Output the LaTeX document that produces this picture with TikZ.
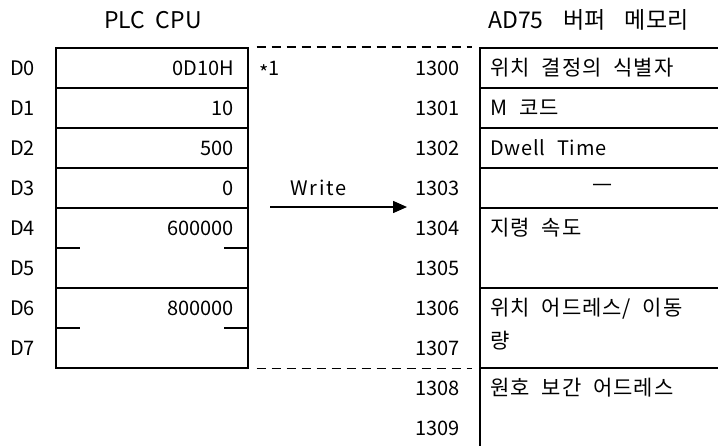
\documentclass[tikz,border=0pt]{standalone}
\usepackage{fontspec}
\setmainfont{Noto Sans CJK KR}[WordSpace=2.2]
\newfontfamily\spacedfont{Noto Sans CJK KR}[LetterSpace=9]
\newfontfamily\lightspaced{Noto Sans CJK KR}[LetterSpace=4,WordSpace=2.2]
\newfontfamily\korfont{Noto Sans CJK KR}[LetterSpace=4,WordSpace=2.2]
\newfontfamily\dashfont{DejaVu Sans}
\usetikzlibrary{arrows.meta}
\begin{document}
\begin{tikzpicture}[x=1pt,y=-1pt,
  boxline/.style={draw, line width=1.5pt},
  lcell/.style={boxline, minimum width=192pt, minimum height=40pt, inner sep=0pt, anchor=north west},
  rcell/.style={boxline, minimum width=281pt, minimum height=40pt, inner sep=0pt, anchor=north west},
  dashline/.style={line width=1.5pt, dash pattern=on 9pt off 6pt},
  lat/.style={font=\fontsize{20pt}{22pt}\selectfont, inner sep=0pt},
  kor/.style={font=\korfont\fontsize{21pt}{23pt}\selectfont, inner sep=0pt},
  ttl/.style={font=\fontsize{23pt}{25pt}\selectfont, inner sep=0pt}]
\useasboundingbox (0,0) rectangle (718,445);
\clip (0,0) rectangle (718,445);
% titles
\node[ttl, anchor=base] (t1) at (153,28) {PLC\hspace{0.45em}CPU};
\node[ttl, anchor=base west] (t2) at (488,28) {AD75\hspace{0.85em}버퍼\hspace{0.85em}메모리};
% left cells
\node[lcell] (c0) at (55,47) {};
\node[lcell] (c1) at (55,87) {};
\node[lcell] (c2) at (55,127) {};
\node[lcell] (c3) at (55,167) {};
\node[lcell, minimum height=80pt] (c45) at (55,207) {};
\node[lcell, minimum height=80pt] (c67) at (55,287) {};
\draw[line width=1.5pt] (c45.west) -- ++(25,0);
\draw[line width=1.5pt] (c45.east) -- ++(-25,0);
\draw[line width=1.5pt] (c67.west) -- ++(25,0);
\draw[line width=1.5pt] (c67.east) -- ++(-25,0);
% right cells
\node[rcell] (r0) at (479,47) {};
\node[rcell] (r1) at (479,87) {};
\node[rcell] (r2) at (479,127) {};
\node[rcell] (r3) at (479,167) {};
\node[rcell, minimum height=80pt] (r45) at (479,207) {};
\node[rcell, minimum height=80pt] (r67) at (479,287) {};
\node[rcell, minimum height=110pt] (r89) at (479,367) {};
% dashed connectors
\draw[dashline, shorten <=8pt, shorten >=7pt] (c0.north east) -- (r0.north west);
\draw[dashline, shorten <=8pt, shorten >=7pt] (c67.south east) -- (r67.south west);
% D labels
\foreach \i/\b in {0/75,1/115,2/155,3/195,4/235,5/275,6/315,7/355}
  \node[lat, anchor=base west] (d\i) at (10,\b) {D\i};
% values
\node[lat, anchor=base east] (v0) at (234,75) {0D10H};
\node[lat, anchor=base east] (v1) at (234,115) {10};
\node[lat, anchor=base east] (v2) at (234,155) {500};
\node[lat, anchor=base east] (v3) at (234,195) {0};
\node[lat, anchor=base east] (v4) at (234,235) {600000};
\node[lat, anchor=base east] (v6) at (234,315) {800000};
% addresses
\foreach \n/\b in {1300/75,1301/115,1302/155,1303/195,1304/235,1305/275,1306/315,1307/355,1308/395,1309/435}
  \node[lat, anchor=base east] (a\n) at (460,\b) {\n};
% right cell contents
\node[kor, anchor=base west] (k0) at (490,75) {위치 결정의 식별자};
\node[kor, anchor=base west] (k1) at (490,115) {M 코드};
\node[lat, anchor=base west] (k2) at (490,155) {\lightspaced Dwell Time};
\node[lat] (k3) at (602,187) {\dashfont —};
\node[kor, anchor=base west] (k4) at (490,235) {지령 속도};
\node[kor, anchor=base west] (k6) at (490,315) {위치 어드레스/ 이동};
\node[kor, anchor=base west] (k7) at (490,348) {량};
\node[kor, anchor=base west] (k8) at (490,395) {원호 보간 어드레스};
% note and write arrow
\node[lat, anchor=base west] (n1) at (259,75) {\raisebox{-5pt}{*}1};
\node[lat, anchor=base west] (w) at (290,195) {\spacedfont Write};
\coordinate (wa) at (270,207);
\coordinate (wb) at (407,207);
\draw[line width=1.5pt, -{Triangle[length=14pt,width=12pt]}] (wa) -- (wb);
\end{tikzpicture}
\end{document}
